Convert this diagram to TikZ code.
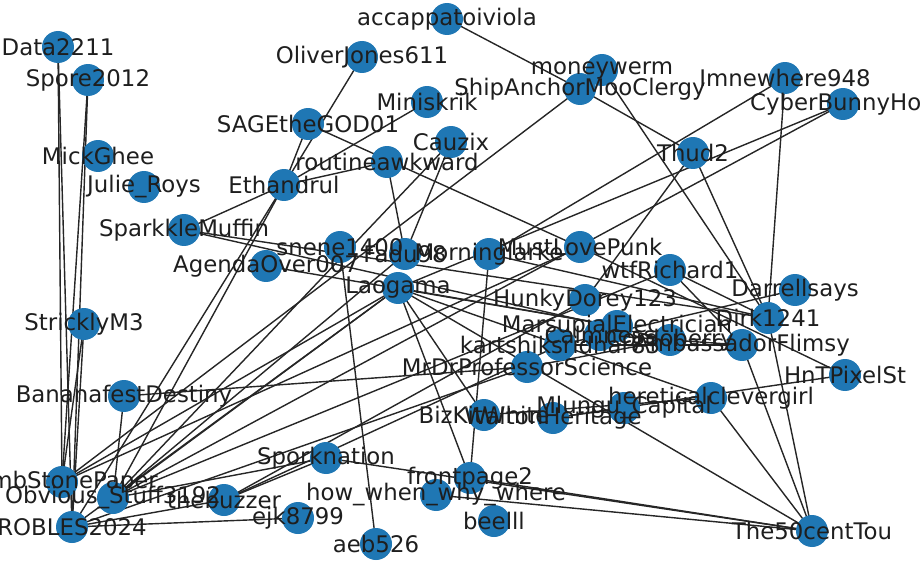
\documentclass[tikz,border=0pt]{standalone}
\usepackage{fontspec}
\setmainfont{DejaVu Sans}
\definecolor{nodeblue}{RGB}{31,119,180}
\begin{document}
\begin{tikzpicture}[x=0.02cm,y=-0.02cm,
  vtx/.style={circle,minimum size=0.64cm,inner sep=0pt},
  lbl/.style={font=\fontsize{13}{13}\selectfont,text={rgb,255:red,30;green,30;blue,30},inner sep=0pt},
  edge/.style={draw=black!85,line width=0.8pt}]
\useasboundingbox (0,0) rectangle (922,564);
\foreach \n/\x/\y in {
 d2211/58/47, spore/88/80, mick/98/156, julie/144/187,
 spark/184/230, agenda/266/266, ethan/284/185,
 sage/308/124, oliver/362/57, accap/447/19,
 mini/427/102, cauzix/451/142, routine/387/162,
 snene/340/247, fadu/405/254, laog/398/288, morn/489/254,
 must/580/247, money/602/70, ship/580/89,
 imne/785/78, cyber/843/104, thud/693/153,
 wtf/670/270, darrell/795/290, dirk/768/318,
 amb/742/345, hnt/845/375, hunky/585/300,
 mars/617/326, calm/600/335, kart/560/345,
 cord/670/340, mrdr/527/367, heret/711/398,
 mlungu/624/408, biz/484/415, walton/553/418,
 strick/84/324, banana/124/396, tomb/62/482,
 obv/113/498, robles/72/527, buzz/224/500,
 ejk/298/518, aeb/376/544, spork/326/458, front/470/478,
 how/436/495, beel/494/521, fifty/812/531}
 { \node[vtx] (\n) at (\x,\y) {}; }
\foreach \a/\b in {d2211/robles, spore/tomb, d2211/tomb, spore/robles, strick/tomb, strick/robles,
 banana/obv, banana/mrdr, sage/ethan, oliver/ethan, mini/ethan, routine/ethan, spark/ethan,
 ethan/obv, ethan/robles, sage/must, routine/fadu, cauzix/fadu, cauzix/obv, accap/ship, ship/thud,
 money/dirk, ship/tomb, imne/morn, imne/dirk, cyber/laog, cyber/obv, thud/dirk, thud/hunky,
 spark/cord, spark/dirk, agenda/mars, laog/tomb, laog/robles, laog/front, laog/biz, laog/heret,
 laog/fifty, laog/mars, laog/obv, snene/aeb, mrdr/robles, hunky/buzz, wtf/dirk, wtf/amb, wtf/obv,
 darrell/kart, heret/fifty, spork/fifty, front/fifty, how/fifty, dirk/fifty, amb/fifty,
 mlungu/walton, hnt/walton, ejk/robles, buzz/robles, buzz/spork, buzz/kart, spork/obv,
 front/morn, must/tomb, fadu/obv, morn/dirk, kart/amb, mrdr/cord, biz/heret, calm/amb, must/hnt}
 { \draw[edge] (\a.center) -- (\b.center); }
\foreach \n in {d2211,spore,mick,julie,spark,agenda,ethan,sage,oliver,accap,mini,cauzix,routine,
 snene,fadu,laog,morn,must,money,ship,imne,cyber,thud,wtf,darrell,dirk,amb,hnt,hunky,mars,calm,
 kart,cord,mrdr,heret,mlungu,biz,walton,strick,banana,tomb,obv,robles,buzz,ejk,aeb,spork,front,how,beel,fifty}
 { \fill[nodeblue] (\n.center) circle (0.32cm); }
\foreach \n/\t in {
 d2211/Data2211, spore/Spore2012, mick/MickGhee, julie/Julie\_Roys,
 spark/SparkkleMuffin, agenda/AgendaOver007, ethan/Ethandrul,
 sage/SAGEtheGOD01, oliver/OliverJones611, accap/accappatoiviola,
 mini/Miniskrik, cauzix/Cauzix, routine/routineawkward,
 snene/snene1400, fadu/Fadu98, laog/Laogama, morn/Morninglarke,
 must/MustLovePunk, money/moneywerm, ship/ShipAnchorMooClergy,
 imne/Imnewhere948, cyber/CyberBunnyHop, thud/Thud2,
 wtf/wtfRichard1, darrell/Darrellsays, dirk/Dirk1241,
 amb/AmbassadorFlimsy, hnt/HnTPixelSt, hunky/HunkyDorey123,
 mars/MarsupialElectrician, calm/Calmness, kart/kartshiksridhar83,
 cord/Cordoberry, mrdr/MrDrProfessorScience, heret/hereticalclevergirl,
 mlungu/Mlungu\_Capital, biz/BizKitWhite, walton/WaltonHeritage,
 strick/StricklyM3, banana/BananafestDestiny, tomb/TombStonePaper,
 obv/Obvious\_Stuff3192, robles/ROBLES2024, buzz/thebuzzer,
 ejk/ejk8799, aeb/aeb526, spork/Sporknation, front/frontpage2,
 how/how\_when\_why\_where, beel/beelll, fifty/The50centTou}
 { \node[lbl] (\n-l) at (\n.center) {\t}; }
\end{tikzpicture}
\end{document}
